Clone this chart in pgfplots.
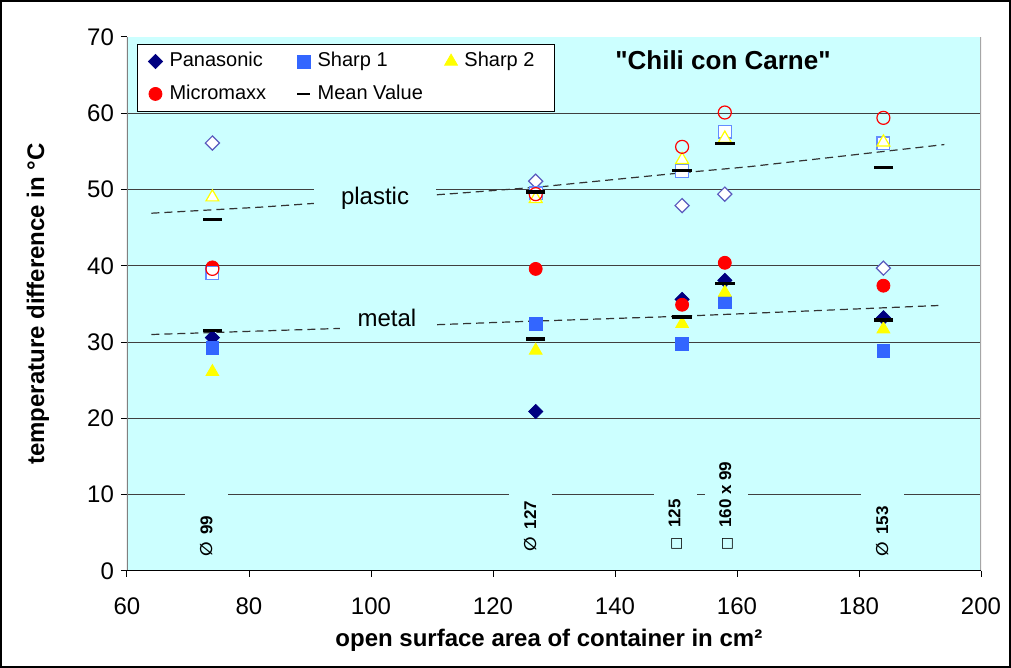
\documentclass[border=0pt]{standalone}
\usepackage{fontspec}
\setmainfont[Ligatures=TeXOff]{Liberation Sans}
\newfontfamily\dejavu{DejaVu Sans}
\usepackage{pgfplots}
\pgfplotsset{compat=1.18}
\definecolor{bg}{RGB}{204,255,255}
\definecolor{pana}{RGB}{0,0,128}
\definecolor{panaopen}{RGB}{90,90,190}
\definecolor{sharpone}{RGB}{51,102,255}
\definecolor{sharponeopen}{RGB}{100,140,255}
\definecolor{sharptwo}{RGB}{255,255,0}
\definecolor{micro}{RGB}{255,0,0}
\begin{document}
\begin{tikzpicture}
\useasboundingbox (-63.5pt,-48.5pt) rectangle (442pt,285.5pt);
\draw[black, line width=1pt] (-63pt,-48pt) rectangle (441.5pt,285pt);
\begin{axis}[
  at={(0,0)}, anchor=south west,
  scale only axis, width=427pt, height=267pt,
  xmin=60, xmax=200, ymin=0, ymax=70,
  xtick={60,80,...,200}, ytick={0,10,...,70},
  axis line style={draw=none},
  axis background/.style={fill=bg},
  tick align=outside, major tick length=3pt,
  tick style={black, line width=0.5pt},
  tick pos=left,
  extra y ticks={10,20,...,60},
  extra y tick labels={},
  extra y tick style={grid=major, major tick length=0pt},
  grid style={black!75, line width=0.5pt},
  ticklabel style={font=\fontsize{12}{14}\selectfont},
  xticklabel style={yshift=-7pt},
  /pgf/number format/assume math mode=true,
  xlabel={open surface area of container in cm²},
  xlabel style={font=\bfseries\fontsize{12}{14}\selectfont, at={(axis description cs:0.494,-0.129)}, anchor=center},
  ylabel={temperature difference in °C},
  ylabel style={font=\bfseries\fontsize{12}{14}\selectfont, at={(axis description cs:-0.1042,0.5)}, anchor=center},
  legend columns=3,
  legend cell align=left,
  legend image code/.code={\draw[mark repeat=2,mark phase=2] plot coordinates {(0cm,0cm) (0.15cm,0cm) (0.3cm,0cm)};},
  legend style={at={(axis description cs:0.0117,0.987)}, anchor=north west, draw=black, fill=white,
    inner xsep=5.5pt, inner ysep=2pt, font=\fontsize{10}{12}\selectfont, row sep=3pt,
    nodes={inner xsep=3.5pt, inner ysep=2pt, text height=7.2pt, text depth=2pt},
    /tikz/every even column/.append style={column sep=6pt}},
]
% metal (filled)
\addplot[only marks, mark=square*, mark size=2.5pt, color=pana, mark options={rotate=45}]
  coordinates {(74,30.6) (127,20.9) (151,35.6) (158,38.1) (184,33.2)};
\addlegendentry{\makebox[54pt][l]{Panasonic}}
\addplot[only marks, mark=square*, mark size=3.2pt, color=sharpone]
  coordinates {(74,29.2) (127,32.4) (151,29.8) (158,35.2) (184,28.8)};
\addlegendentry{\makebox[54pt][l]{Sharp 1}}
\addplot[only marks, mark=triangle*, mark size=3.7pt, color=sharptwo]
  coordinates {(74,26.1) (127,28.9) (151,32.4) (158,36.5) (184,31.7)};
\addlegendentry{\makebox[36pt][l]{Sharp 2}}
\addplot[only marks, mark=*, mark size=3.25pt, color=micro]
  coordinates {(74,39.8) (127,39.6) (151,34.9) (158,40.4) (184,37.4)};
\addlegendentry{Micromaxx}
\addplot[only marks, mark=-, mark size=4.85pt, black, mark options={line width=1.7pt},
  legend image code/.code={\draw[black, line width=0.8pt] (0.04cm,0cm) -- (0.26cm,0cm);}]
  coordinates {(74,31.5) (127,30.4) (151,33.3) (158,37.7) (184,32.9)};
\addlegendentry{Mean Value}
% plastic (open)
\addplot[forget plot, only marks, mark=square*, mark size=2.5pt, mark options={rotate=45, draw=panaopen, fill=white, line width=0.6pt}]
  coordinates {(74,56.1) (127,51.1) (151,47.9) (158,49.4) (184,39.7)};
\addplot[forget plot, only marks, mark=square*, mark size=3.2pt, mark options={draw=sharponeopen, fill=white, line width=0.6pt}]
  coordinates {(74,39.1) (127,49.5) (151,52.4) (158,57.6) (184,56.05)};
\addplot[forget plot, only marks, mark=triangle*, mark size=3.7pt, mark options={draw=sharptwo, fill=white, line width=0.6pt}]
  coordinates {(74,49.0) (127,48.8) (151,53.9) (158,56.7) (184,56.2)};
\addplot[forget plot, only marks, mark=o, mark size=3.25pt, mark options={draw=micro, line width=0.6pt}]
  coordinates {(74,39.6) (127,49.4) (151,55.6) (158,60.1) (184,59.4)};
\addplot[forget plot, only marks, mark=-, mark size=4.85pt, black, mark options={line width=1.7pt}]
  coordinates {(74,46.1) (127,49.7) (151,52.5) (158,56.05) (184,52.9)};
% trend lines
\addplot[forget plot, no marks, black!80, line width=0.6pt, dash pattern=on 4pt off 2.5pt]
  coordinates {(64,46.9) (82,47.7) (114,49.5) (127,50.3) (151,52.2) (162,53.0) (194,55.9)};
\addplot[forget plot, no marks, black!80, line width=0.6pt, dash pattern=on 4pt off 2.5pt]
  coordinates {(64,31.0) (95,31.8) (121,32.6) (151,33.4) (193,34.8)};
% labels
\node[anchor=base, fill=bg, inner xsep=13.5pt, inner ysep=1pt, text height=10pt, text depth=4pt, font=\fontsize{12}{14}\selectfont] at (axis cs:100.66,48.05) {plastic};
\node[anchor=base, fill=bg, inner xsep=8.6pt, inner ysep=1pt, text height=9pt, text depth=3pt, font=\fontsize{12}{14}\selectfont] at (axis cs:102.6,32.0) {metal};
\node[font=\bfseries\fontsize{13}{15}\selectfont] at (axis cs:157.7,67.0) {"Chili con Carne"};
\begin{scope}[every node/.style={rotate=90, anchor=west, fill=bg, inner sep=1.5pt, minimum height=21.5pt, font=\bfseries\fontsize{8.5}{10}\selectfont}]
\node at (axis cs:73.0,1.4) {\makebox[34pt][l]{{\dejavu ∅}\hspace{1.5pt} 99}};
\node at (axis cs:126.1,2.1) {\makebox[34pt][l]{{\dejavu ∅}\hspace{1.5pt} 127}};
\node at (axis cs:149.9,2.2) {\makebox[34pt][l]{{\dejavu\fontsize{7}{8}\selectfont □}\hspace{2.5pt} 125}};
\node at (axis cs:158.2,2.2) {\makebox[34pt][l]{{\dejavu\fontsize{7}{8}\selectfont □}\hspace{2.5pt} 160 x 99}};
\node at (axis cs:183.8,1.4) {\makebox[34pt][l]{{\dejavu ∅}\hspace{1.5pt} 153}};
\end{scope}
\draw[black!50, line width=1pt] (rel axis cs:0,0) -- (rel axis cs:0,1);
\draw[black!35, line width=1pt] (rel axis cs:1,0) -- (rel axis cs:1,1);
\draw[black, line width=0.6pt] (rel axis cs:0,0) -- (rel axis cs:1,0);
\end{axis}
\end{tikzpicture}
\end{document}
